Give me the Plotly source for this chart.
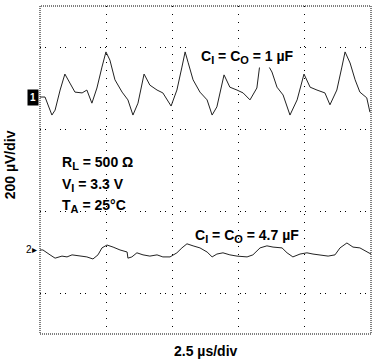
import plotly.graph_objects as go

t_1uF = [0.00, 0.19, 0.45, 0.57, 0.76, 0.94, 1.13, 1.32, 1.59, 1.77, 1.96, 2.15, 2.34, 2.49, 2.64, 2.83,
         3.10, 3.32, 3.51, 3.70, 3.93, 4.15, 4.42, 4.64, 4.95, 5.17, 5.36, 5.48, 5.59, 5.78, 6.04, 6.31,
         6.50, 6.68, 6.95, 7.17, 7.44, 7.67, 7.93, 8.19, 8.31, 8.46, 8.61, 8.76, 8.95, 9.18, 9.44, 9.71,
         9.97, 10.20, 10.46, 10.76, 10.95, 11.21, 11.40, 11.52, 11.71, 11.90, 12.08, 12.34, 12.46]
v_1uF = [178, 178, 134, 146, 195, 234, 212, 190, 188, 195, 163, 200, 251, 288, 268, 220,
         190, 171, 134, 163, 234, 207, 195, 188, 156, 195, 251, 288, 263, 220, 190, 171,
         134, 154, 232, 202, 195, 188, 171, 200, 261, 288, 256, 239, 202, 183, 134, 171,
         234, 202, 195, 188, 159, 195, 251, 288, 261, 220, 190, 176, 141]

t_47uF = [0.00, 0.11, 0.38, 0.57, 0.83, 1.02, 1.21, 1.51, 1.77, 2.00, 2.19, 2.34, 2.53, 2.76, 3.02, 3.29,
          3.32, 3.47, 3.66, 3.89, 4.15, 4.42, 4.64, 4.91, 5.17, 5.36, 5.55, 5.78, 6.04, 6.31, 6.50, 6.68,
          6.91, 7.17, 7.44, 7.82, 8.04, 8.31, 8.57, 8.80, 9.14, 9.33, 9.55, 9.82, 10.08, 10.31, 10.57,
          10.88, 11.14, 11.33, 11.59, 11.82, 12.08, 12.34, 12.50]
v_47uF = [-195, -195, -207, -215, -210, -212, -207, -210, -212, -217, -207, -190, -183, -188, -195, -200,
          -215, -212, -202, -207, -210, -207, -212, -212, -202, -190, -180, -185, -190, -200, -212, -205,
          -202, -207, -210, -212, -207, -190, -185, -188, -190, -202, -212, -205, -202, -205, -207,
          -210, -207, -190, -178, -188, -190, -200, -205]

x_grid = [2.5, 5.0, 7.5, 10.0]
y_grid = [-300, -100, 100, 300]

FONT = "Liberation Sans, Arial, sans-serif"
SUB = "<sub><span style='font-size:11px'>{}</span></sub>"

fig = go.Figure()
fig.add_trace(go.Scatter(x=t_1uF, y=v_1uF, mode="lines",
                         line=dict(color="#222", width=1), hoverinfo="skip"))
fig.add_trace(go.Scatter(x=t_47uF, y=v_47uF, mode="lines",
                         line=dict(color="#222", width=1), hoverinfo="skip"))

fig.update_layout(
    width=375, height=360,
    margin=dict(l=40, r=4, t=6, b=26),
    paper_bgcolor="white", plot_bgcolor="white",
    showlegend=False,
    font=dict(family=FONT, color="black", size=14),
    xaxis=dict(range=[0, 12.5], tickvals=x_grid, showticklabels=False, ticks="",
               showgrid=True, gridcolor="black", gridwidth=1, griddash="1px,7px",
               zeroline=False, showline=False, fixedrange=True),
    yaxis=dict(range=[-400, 400], tickvals=y_grid, showticklabels=False, ticks="",
               showgrid=True, gridcolor="black", gridwidth=1, griddash="1px,4px,1px,14px",
               zeroline=False, showline=False, fixedrange=True),
)

# dotted screen border
fig.add_shape(type="rect", xref="paper", yref="paper", x0=0, y0=0, x1=1, y1=1,
              line=dict(color="black", width=1, dash="1px,1px"))

ann = [
    dict(x=7.82, y=276, text="<b>C" + SUB.format("I") + " = C" + SUB.format("O") + " = 1 µF</b>",
         bgcolor="white"),
    dict(x=7.82, y=-161, text="<b>C" + SUB.format("I") + " = C" + SUB.format("O") + " = 4.7 µF</b>"),
]
for a in ann:
    fig.add_annotation(xref="x", yref="y", showarrow=False, xanchor="center", yanchor="middle",
                       font=dict(size=14, family=FONT), **a)

for txt, yv in [("<b>R" + SUB.format("L") + " = 500 Ω</b>", 17),
                ("<b>V" + SUB.format("I") + " = 3.3 V</b>", -37),
                ("<b>T" + SUB.format("A") + " = 25°C</b>", -88)]:
    fig.add_annotation(xref="x", yref="y", x=0.75, y=yv, text=txt, showarrow=False,
                       xanchor="left", yanchor="middle", font=dict(size=14, family=FONT))

# axis captions
fig.add_annotation(xref="paper", yref="paper", x=-0.09, y=0.515, text="<b>200 µV/div</b>",
                   textangle=-90, showarrow=False, xanchor="center", yanchor="middle",
                   font=dict(size=14, family=FONT))
fig.add_annotation(xref="paper", yref="paper", x=0.5, y=-0.052, text="<b>2.5 µs/div</b>",
                   showarrow=False, xanchor="center", yanchor="middle",
                   font=dict(size=14, family=FONT))

# channel markers
fig.add_annotation(xref="paper", yref="y", x=-0.004, y=178, text="<b>1</b>", showarrow=False,
                   xanchor="right", yanchor="middle", bgcolor="black",
                   font=dict(size=10, color="white", family=FONT), borderpad=2)
fig.add_annotation(xref="paper", yref="y", x=-0.002, y=-195, text="2▸", showarrow=False,
                   xanchor="right", yanchor="middle",
                   font=dict(size=10, color="black", family=FONT))

fig.write_html("out.html", config={"displayModeBar": False},
               post_script="document.body.style.margin='0';document.body.style.overflow='hidden';")
